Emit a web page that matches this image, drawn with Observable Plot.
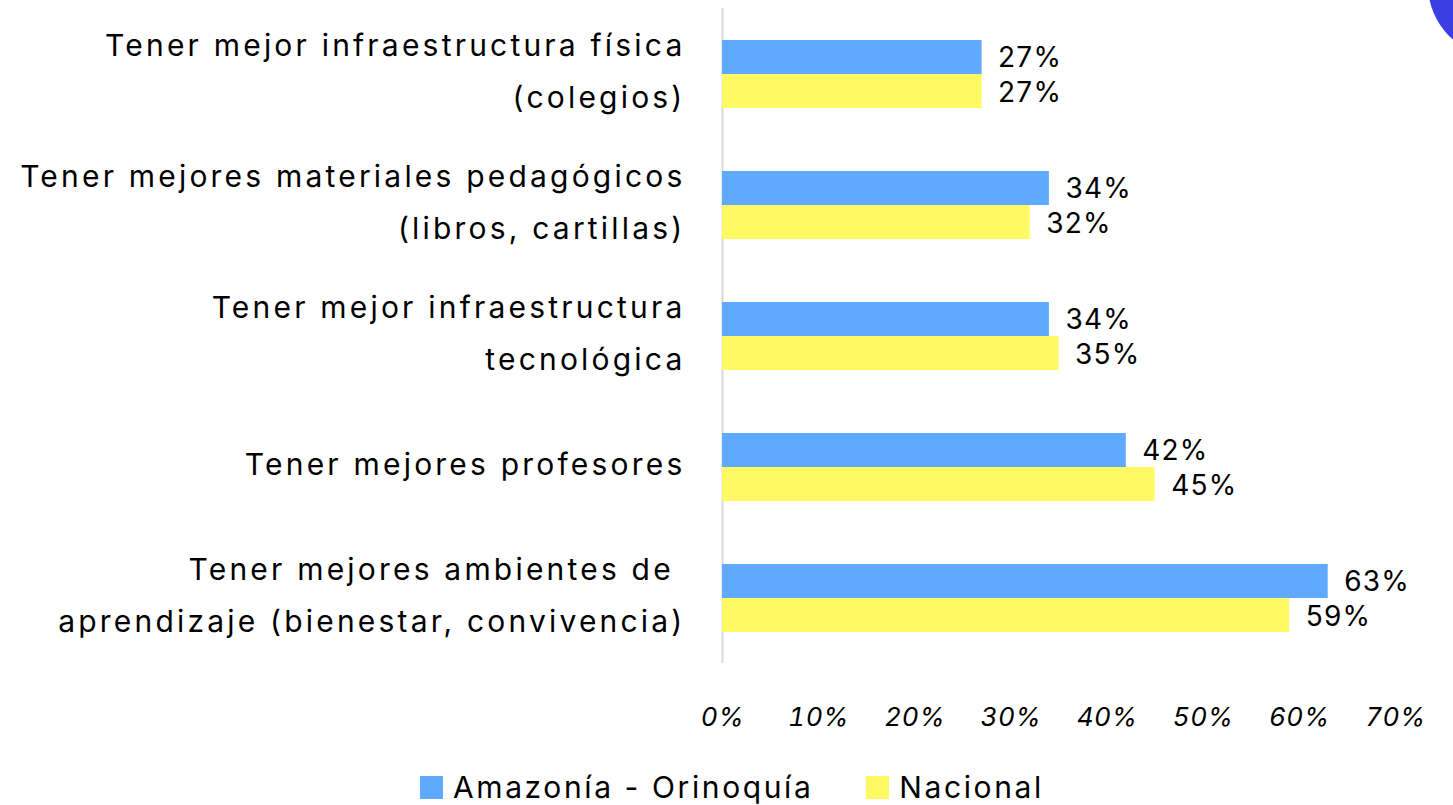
<!DOCTYPE html>
<html><head><meta charset="utf-8">
<script src="https://cdn.jsdelivr.net/npm/d3@7"></script>
<script src="https://cdn.jsdelivr.net/npm/@observablehq/plot@0.6"></script>
<style>
html,body{margin:0;padding:0;background:#fff;overflow:hidden;}
#wrap{position:relative;width:1453px;height:805px;overflow:hidden;font-family:Inter,"Liberation Sans",sans-serif;}
#blob{position:absolute;left:1428px;top:-87px;width:144px;height:144px;border-radius:50%;background:#3b3fe3;}
#chart{position:absolute;left:0;top:0;}
#legend{position:absolute;top:772px;left:420px;display:flex;align-items:center;font-size:30px;line-height:30px;color:#000;letter-spacing:2.6px;}
.item{display:flex;align-items:center;margin-right:53px;}
.sw{width:23px;height:23px;margin-right:10px;display:inline-block;}
g[aria-label="x-axis tick label"] text{font-style:italic;letter-spacing:0.5px;}
text[aria-label="category labels"], g[aria-label="category labels"] text{letter-spacing:3.2px;}
text[aria-label="value labels"], g[aria-label="value labels"] text{letter-spacing:1.2px;}
</style>
</head><body>
<div id="wrap"><div id="chart"></div><div id="blob"></div><div id="legend"></div></div>
<script>
const categories = [
  "Tener mejor infraestructura física (colegios)",
  "Tener mejores materiales pedagógicos (libros, cartillas)",
  "Tener mejor infraestructura tecnológica",
  "Tener mejores profesores",
  "Tener mejores ambientes de aprendizaje (bienestar, convivencia)"
];
const labelLines = [
  "Tener mejor infraestructura física\n(colegios)",
  "Tener mejores materiales pedagógicos\n(libros, cartillas)",
  "Tener mejor infraestructura\ntecnológica",
  "Tener mejores profesores",
  "Tener mejores ambientes de \naprendizaje (bienestar, convivencia)"
];
const seriesNames = ["Amazonía - Orinoquía", "Nacional"];
const amazonia = [0.27, 0.34, 0.34, 0.42, 0.63];
const nacional = [0.27, 0.32, 0.35, 0.45, 0.59];
const xTicks = [0, 0.1, 0.2, 0.3, 0.4, 0.5, 0.6, 0.7];
const colors = ["#5fa9ff", "#fffa63"];

const dataA = categories.map((c, i) => ({cat: c, v: amazonia[i]}));
const dataN = categories.map((c, i) => ({cat: c, v: nacional[i]}));
const labels = categories.map((c, i) => ({cat: c, label: labelLines[i]}));
const pct = d3.format(".0%");

const half = 34;
const plot = Plot.plot({
  width: 1453,
  height: 745,
  marginLeft: 722,
  marginRight: 58,
  marginTop: 8,
  marginBottom: 82,
  style: {fontFamily: "Inter, 'Liberation Sans', sans-serif", background: "transparent", color: "#000"},
  x: {domain: [0, 0.7], axis: null},
  y: {domain: categories, paddingInner: 0.483, paddingOuter: 0.23, axis: null},
  marks: [
    Plot.ruleX([0], {stroke: "#d9d9d9", strokeWidth: 2}),
    Plot.barX(dataA, {y: "cat", x: "v", fill: colors[0], insetBottom: half}),
    Plot.barX(dataN, {y: "cat", x: "v", fill: colors[1], insetTop: half}),
    Plot.text(dataA, {y: "cat", x: "v", text: d => pct(d.v), textAnchor: "start", dx: 16, dy: -16, fontSize: 28, fill: "#000", ariaLabel: () => "value labels"}),
    Plot.text(dataN, {y: "cat", x: "v", text: d => pct(d.v), textAnchor: "start", dx: 16, dy: 19, fontSize: 28, fill: "#000", ariaLabel: () => "value labels"}),
    Plot.text(labels, {y: "cat", x: 0, text: "label", textAnchor: "end", dx: -37, dy: -9, lineHeight: 1.73, fontSize: 30, fill: "#000", ariaLabel: () => "category labels"}),
    Plot.axisX({ticks: xTicks, tickFormat: pct, tickSize: 0, tickPadding: 44, fontSize: 26, anchor: "bottom", label: null})
  ]
});
document.getElementById("chart").appendChild(plot);

const legend = document.getElementById("legend");
seriesNames.forEach((s, i) => {
  const it = document.createElement("div");
  it.className = "item";
  const sw = document.createElement("span");
  sw.className = "sw";
  sw.style.background = colors[i];
  it.appendChild(sw);
  it.appendChild(document.createTextNode(s));
  legend.appendChild(it);
});
</script>
</body></html>
